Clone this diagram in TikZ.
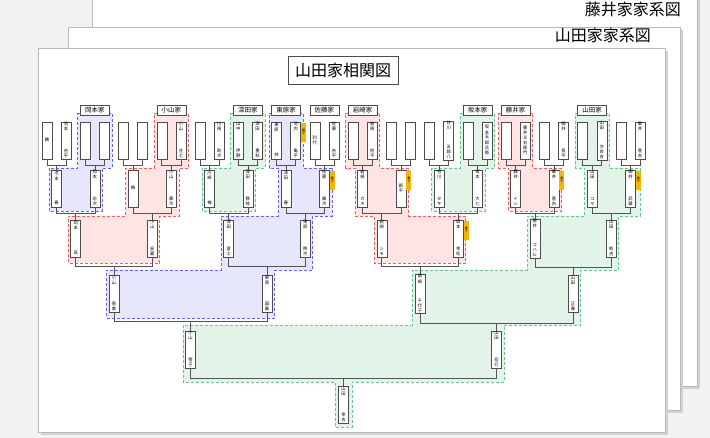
\documentclass[tikz,border=0pt]{standalone}
\usepackage{fontspec}
\usetikzlibrary{calc}
\usetikzlibrary{positioning}
\newfontfamily\jp{Noto Sans CJK JP}
\definecolor{rfill}{RGB}{255,228,228}
\definecolor{rline}{RGB}{240,96,96}
\definecolor{bfill}{RGB}{230,230,252}
\definecolor{bline}{RGB}{100,100,250}
\definecolor{gfill}{RGB}{226,244,232}
\definecolor{gline}{RGB}{100,205,140}
\definecolor{tagc}{RGB}{247,181,0}
\newcommand\vstack[1]{\begin{tabular}{@{}c@{}}#1\end{tabular}}
\newcommand\nm[2]{\vbox to 33pt{\hbox to 8pt{\hss\vstack{#1}\hss}\vfill\hbox to 8pt{\hss\vstack{#2}\hss}}}
\newcommand\nc[1]{\vstack{#1}}
\tikzset{
  pbox/.style={draw=gray!60!black, fill=white, line width=.5pt, minimum width=10pt,
    minimum height=37pt, inner sep=0pt, font=\fontsize{4.3}{4.9}\jp},
  fam/.style={draw=gray!60!black, fill=white, line width=.5pt, minimum width=29pt,
    minimum height=10pt, inner sep=1pt, font=\fontsize{6.5}{7}\jp},
  tag/.style={fill=tagc, minimum width=5pt, minimum height=19pt, inner sep=0pt,
    font=\fontsize{3}{3.5}\jp, anchor=north west},
  link/.style={draw=gray!65!black, line width=.6pt},
  reg/.style={dash pattern=on 3pt off 2pt, line width=.8pt},
  regred/.style={reg, fill=rfill, draw=rline},
  regblue/.style={reg, fill=bfill, draw=bline},
  reggreen/.style={reg, fill=gfill, draw=gline},
  sheet/.style={fill=white, draw=gray!55}
}
\begin{document}
\begin{tikzpicture}[x=1pt, y=-1pt]
  \useasboundingbox (0,0) rectangle (710,438);
  \fill[gray!10] (0,0) rectangle (710,438);
  % sheets
  \fill[gray!35] (95,-5) rectangle (700,389);
  \draw[sheet] (92,-5) rectangle (697,386);
  \node[anchor=north east, font=\fontsize{16}{18}\jp, inner sep=0pt] (t3) at (681,2) {藤井家家系図};
  \fill[gray!35] (71,30) rectangle (683,413);
  \draw[sheet] (68,27) rectangle (680,410);
  \node[anchor=north east, font=\fontsize{16}{18}\jp, inner sep=0pt] (t2) at (651,28) {山田家家系図};
  \fill[gray!35] (41,51) rectangle (668,435);
  \draw[sheet] (38,48) rectangle (665,432);
  \node[draw=gray!60!black, fill=white, font=\fontsize{16}{18}\jp, minimum height=28pt, inner xsep=7pt] (t1) at (343,70) {山田家相関図};

  % family areas
  \path[regblue] (77.8,113) -- (111.9,113) -- (111.9,168) -- (102.4,168) -- (102.4,211) -- (49.1,211) -- (49.1,168) -- (77.8,168) -- cycle;
  \path[regred] (154.3,113) -- (188.4,113) -- (188.4,168) -- (178.9,168) -- (178.9,216) -- (159.7,216) -- (159.7,263) -- (68.2,263) -- (68.2,216) -- (125.6,216) -- (125.6,168) -- (154.3,168) -- cycle;
  \path[reggreen] (230.8,113) -- (264.9,113) -- (264.9,168) -- (255.4,168) -- (255.4,211) -- (202.1,211) -- (202.1,168) -- (230.8,168) -- cycle;
  \path[regblue] (269.1,113) -- (303.2,113) -- (303.2,168) -- (331.9,168) -- (331.9,216) -- (312.8,216) -- (312.8,270) -- (274.5,270) -- (274.5,318) -- (106.5,318) -- (106.5,270) -- (221.2,270) -- (221.2,216) -- (278.7,216) -- (278.7,168) -- (269.1,168) -- cycle;
  \path[regred] (345.6,113) -- (379.7,113) -- (379.7,168) -- (408.5,168) -- (408.5,216) -- (465.8,216) -- (465.8,263) -- (374.3,263) -- (374.3,216) -- (355.2,216) -- (355.2,168) -- (345.6,168) -- cycle;
  \path[reggreen] (460.4,113) -- (494.5,113) -- (494.5,168) -- (485,168) -- (485,211) -- (431.8,211) -- (431.8,168) -- (460.4,168) -- cycle;
  \path[regred] (498.6,113) -- (532.8,113) -- (532.8,168) -- (561.6,168) -- (561.6,211) -- (508.3,211) -- (508.3,168) -- (498.6,168) -- cycle;
  \path[reggreen] (575.1,113) -- (609.3,113) -- (609.3,168) -- (640,168) -- (640,216) -- (618.8,216) -- (618.8,270) -- (580.5,270) -- (580.5,325) -- (504.1,325) -- (504.1,382) -- (352,382) -- (352,427) -- (335,427) -- (335,382) -- (183,382) -- (183,325) -- (412.5,325) -- (412.5,270) -- (527.3,270) -- (527.3,216) -- (584.8,216) -- (584.8,168) -- (575.1,168) -- cycle;

  % family labels
  \node[fam] (f1) at (94.8,110) {岡本家};
  \node[fam] (f3) at (171.4,110) {小山家};
  \node[fam] (f5) at (247.9,110) {深田家};
  \node[fam] (f6) at (286.2,110) {東原家};
  \node[fam] (f7) at (324.4,110) {佐藤家};
  \node[fam] (f8) at (362.7,110) {岩崎家};
  \node[fam] (f11) at (477.5,110) {坂本家};
  \node[fam] (f12) at (515.7,110) {藤井家};
  \node[fam] (f14) at (592.2,110) {山田家};

  % persons
  \foreach \n/\t in {0/{\nc{鶴}},1/{\nm{池\\本}{吉\\平}},2/{},3/{},4/{},5/{},6/{},
      7/{\nm{小\\山}{庄\\七}},8/{},9/{\nm{川\\崎}{助\\次}},10/{\nm{山\\中}{伊\\野}},
      11/{\nm{深\\田}{重\\秋}},12/{\nm{東\\原}{林}},13/{\nm{池\\内}{亀\\平}},14/{\nc{利\\代}},
      15/{\nm{佐\\藤}{吉\\平}},16/{},17/{\nm{岩\\崎}{佐\\平}},18/{},19/{},20/{},
      21/{\nm{谷\\川}{五\\郎\\八}},22/{},23/{\nc{坂\\本\\五\\郎\\兵\\衛}},24/{},
      25/{\nc{藤\\井\\又\\右\\衛\\門}},26/{},27/{\nm{御\\井}{長\\平}},28/{},
      29/{\nm{山\\田}{次\\良\\吉}},30/{},31/{\nm{御\\井}{喜\\吉}}}
    \node[pbox] (p1-\n) at ({47+19.13*\n},140.5) {\t};
  \foreach \n/\t in {0/{\nm{池\\本}{春}},1/{\nm{岡\\本}{忠\\次}},2/{\nc{梅}},3/{\nm{小\\山}{藤\\次}},
      4/{\nm{川\\崎}{梅}},5/{\nm{深\\田}{静\\枝}},6/{\nm{深\\田}{春}},7/{\nm{佐\\藤}{義\\次}},
      8/{\nm{岩\\崎}{カ\\ネ}},9/{\nc{新\\平}},10/{\nm{谷\\川}{タ\\キ}},11/{\nm{坂\\本}{大\\七}},
      12/{\nm{藤\\井}{イ\\シ}},13/{\nm{御\\井}{喜\\吉}},14/{\nm{山\\田}{コ\\マ}},15/{\nm{御\\井}{武\\蔵}}}
    \node[pbox] (p2-\n) at ({56.56+38.26*\n},188.5) {\t};
  \foreach \n/\t in {0/{\nm{岡\\本}{辰}},1/{\nm{小\\山}{安\\蔵}},2/{\nm{深\\田}{富\\士}},3/{\nm{東\\原}{時\\次}},
      4/{\nm{岩\\崎}{シ\\モ}},5/{\nm{坂\\本}{幸\\松}},6/{\nm{藤\\井}{コ\\ハ\\ル}},7/{\nm{山\\田}{熊\\吉}}}
    \node[pbox] (p3-\n) at ({75.7+76.52*\n},238.5) {\t};
  \foreach \n/\t in {0/{\nm{小\\山}{恵\\美}},1/{\nm{東\\原}{国\\義}},2/{\nm{岩\\崎}{千\\代\\子}},3/{\nm{山\\田}{正\\春}}}
    \node[pbox] (p4-\n) at ({113.96+153.04*\n},294) {\t};
  \foreach \n/\t in {0/{\nm{小\\山}{雪\\子}},1/{\nm{山\\田}{宏\\行}}}
    \node[pbox] (p5-\n) at ({190.5+306.08*\n},349.5) {\t};
  \node[pbox] (p6-0) at (343.5,405) {\nm{山\\田}{幸\\吉}};

  % parents to child
  \foreach \r/\d/\N in {1/6/15,2/6/7,3/9/3,4/9/1,5/10/0}{
    \foreach \q in {0,...,\N}{
      \pgfmathtruncatemacro\a{2*\q}
      \pgfmathtruncatemacro\b{2*\q+1}
      \pgfmathtruncatemacro\s{\r+1}
      \path (p\r-\a.south) ++(0,\d) coordinate (m);
      \draw[link] (p\r-\a.south) -- (m) -| (p\r-\b.south);
      \draw[link] (p\s-\q.north) -- (p\s-\q.north |- m);
    }
  }

  % adopted
  \foreach \p in {p1-13,p2-7,p2-9,p2-13,p2-15,p3-5}
    \node[tag] at ([yshift=-1pt]\p.north east) {\vstack{養\\子}};
\end{tikzpicture}
\end{document}
